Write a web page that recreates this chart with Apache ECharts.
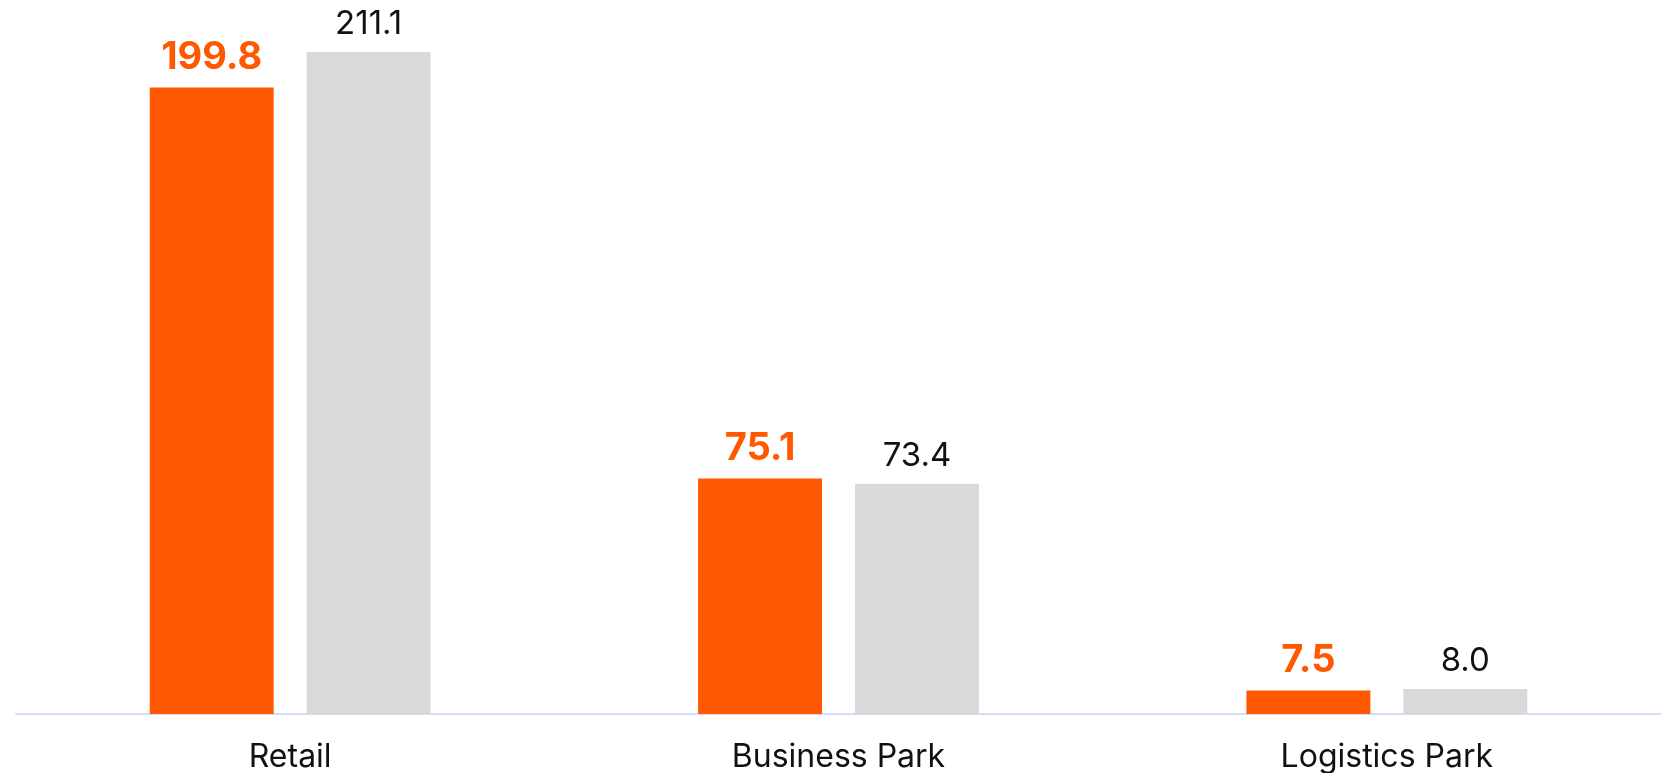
<!DOCTYPE html>
<html>
<head>
<meta charset="utf-8">
<script src="https://cdn.jsdelivr.net/npm/echarts@6/dist/echarts.min.js"></script>
<style>html,body{margin:0;padding:0;background:#fff}#c{width:1661px;height:773px}</style>
</head>
<body>
<div id="c"></div>
<script>
const categories = ['Retail', 'Business Park', 'Logistics Park'];
const seriesA = [199.8, 75.1, 7.5];
const seriesB = [211.1, 73.4, 8.0];

const chart = echarts.init(document.getElementById('c'), null, {renderer: 'canvas'});
chart.setOption({
  animation: false,
  backgroundColor: '#ffffff',
  textStyle: {fontFamily: 'Inter'},
  grid: {left: 16, right: 0, top: 52, bottom: 59, containLabel: false},
  xAxis: {
    type: 'category',
    data: categories,
    axisLine: {show: true, lineStyle: {color: '#D3DCF8', width: 2}},
    axisTick: {show: false},
    axisLabel: {color: '#111111', fontSize: 32, fontFamily: 'Inter', margin: 27}
  },
  yAxis: {
    type: 'value',
    min: 0,
    max: 'dataMax',
    show: false,
    splitLine: {show: false}
  },
  series: [
    {
      type: 'bar',
      data: seriesA,
      barWidth: '22.6%',
      barGap: '26.6%',
      itemStyle: {color: '#FF5800'},
      label: {
        show: true, position: 'top', distance: 11,
        color: '#FF5800', fontSize: 38, fontWeight: 'bold', fontFamily: 'Inter',
        formatter: p => p.value.toFixed(1)
      }
    },
    {
      type: 'bar',
      data: seriesB,
      barWidth: '22.6%',
      itemStyle: {color: '#D9D9D9'},
      label: {
        show: true, position: 'top', distance: 11,
        color: '#111111', fontSize: 33, fontFamily: 'Inter',
        formatter: p => p.value.toFixed(1)
      }
    }
  ]
});
</script>
</body>
</html>
